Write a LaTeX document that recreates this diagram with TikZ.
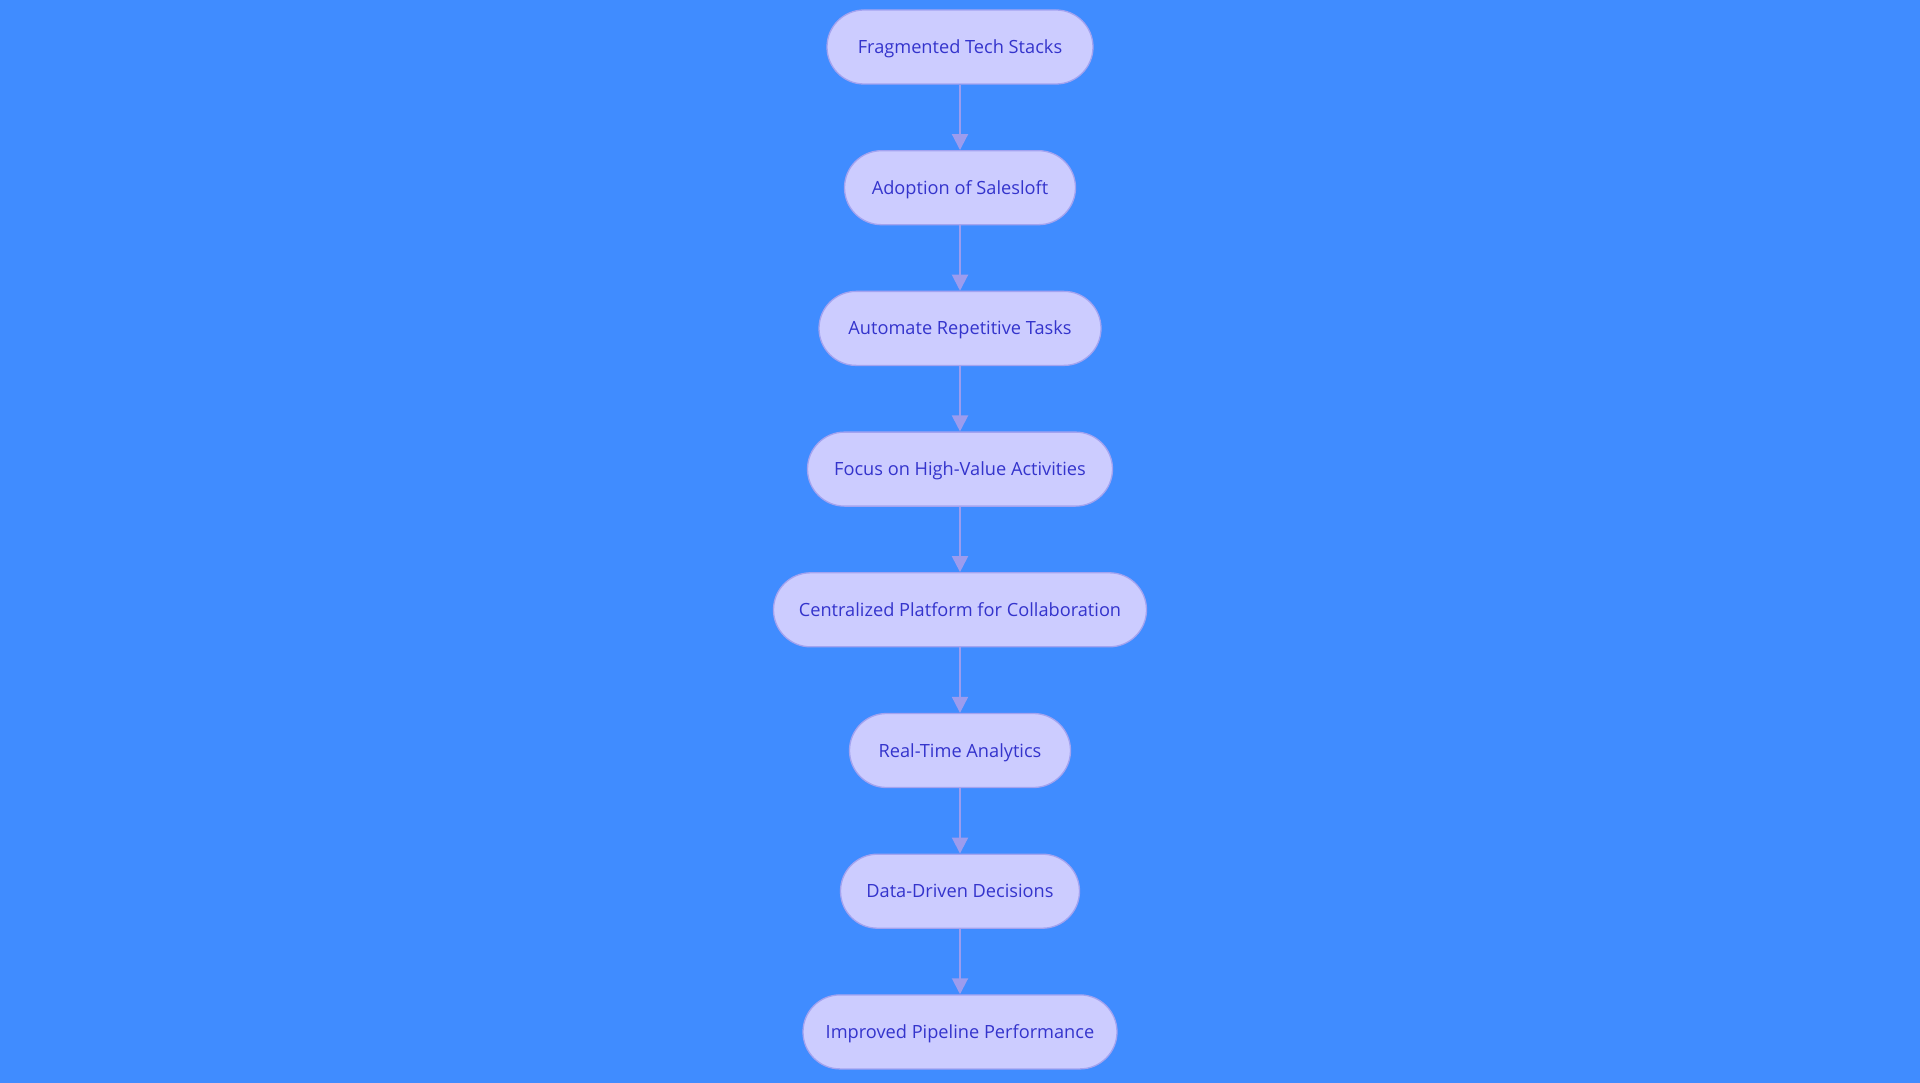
\documentclass[tikz,border=0pt]{standalone}
\usepackage{fontspec}
\setmainfont{Open Sans}
\usetikzlibrary{arrows.meta}
\definecolor{bg}{HTML}{408CFF}
\definecolor{nodefill}{HTML}{CCCCFF}
\definecolor{nodeline}{HTML}{A3A3F0}
\definecolor{linkcol}{HTML}{9C9CEE}
\definecolor{txt}{HTML}{3434CC}
\begin{document}
\begin{tikzpicture}[x=1pt,y=-1pt,
  box/.style={draw=nodeline, fill=nodefill, line width=1.3pt, rounded corners=37pt,
    minimum height=74pt, inner sep=0pt, text=txt, text height=13pt, text depth=0pt,
    font=\fontsize{18.2}{22}\selectfont},
  link/.style={draw=linkcol, line width=2pt, -{Triangle[width=16pt,length=16pt]}}]
\fill[bg] (0,0) rectangle (1920,1083);
\useasboundingbox (0,0) rectangle (1920,1083);
\node[box, minimum width=266pt] (n1) at (960,47) {Fragmented Tech Stacks};
\node[box, minimum width=231pt] (n2) at (960,187.7) {Adoption of Salesloft};
\node[box, minimum width=282pt] (n3) at (960,328.4) {Automate Repetitive Tasks};
\node[box, minimum width=305pt] (n4) at (960,469.1) {Focus on High-Value Activities};
\node[box, minimum width=373pt] (n5) at (960,609.8) {Centralized Platform for Collaboration};
\node[box, minimum width=221pt] (n6) at (960,750.5) {Real-Time Analytics};
\node[box, minimum width=239pt] (n7) at (960,891.2) {Data-Driven Decisions};
\node[box, minimum width=314pt] (n8) at (960,1031.9) {Improved Pipeline Performance};
\draw[link] (n1) -- (n2);
\draw[link] (n2) -- (n3);
\draw[link] (n3) -- (n4);
\draw[link] (n4) -- (n5);
\draw[link] (n5) -- (n6);
\draw[link] (n6) -- (n7);
\draw[link] (n7) -- (n8);
\end{tikzpicture}
\end{document}
